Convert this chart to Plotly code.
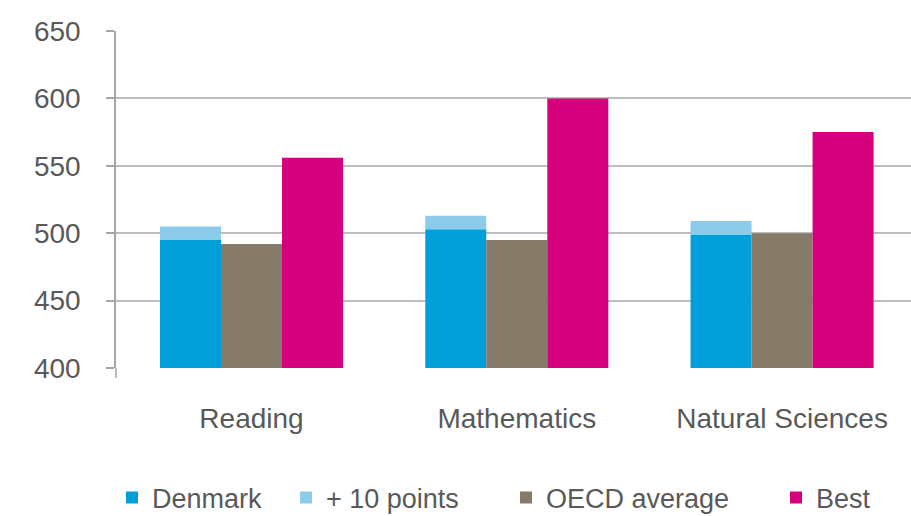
import plotly.graph_objects as go

categories = ["Reading", "Mathematics", "Natural Sciences"]
denmark = [495, 503, 499]
plus_10 = [10, 10, 10]
oecd_avg = [492, 495, 500]
best = [556, 600, 575]
y_ticks = [400, 450, 500, 550, 600, 650]

C_DK = "#009fd9"
C_P10 = "#8ccbea"
C_OECD = "#857b68"
C_BEST = "#d6007f"
TXT = "#595959"
FONT = "Liberation Sans, Arial, sans-serif"

W, H = 911, 516

fig = go.Figure()
fig.add_bar(x=categories, y=denmark, name="Denmark", marker_color=C_DK,
            offsetgroup="dk", legend="legend")
fig.add_bar(x=categories, y=plus_10, base=denmark, name="+ 10 points",
            marker_color=C_P10, offsetgroup="dk", legend="legend2")
fig.add_bar(x=categories, y=oecd_avg, name="OECD average", marker_color=C_OECD,
            offsetgroup="oecd", legend="legend3")
fig.add_bar(x=categories, y=best, name="Best", marker_color=C_BEST,
            offsetgroup="best", legend="legend4")
for tr in fig.data:
    tr.marker.line.width = 0

text_starts = [153, 327, 547, 817]
legend_common = dict(orientation="h", xref="container", yref="container",
                     xanchor="left", yanchor="middle", y=1 - 498 / H,
                     font=dict(family=FONT, size=27, color=TXT),
                     bgcolor="rgba(0,0,0,0)", borderwidth=0)
legends = {}
for i, ts in enumerate(text_starts):
    key = "legend" if i == 0 else f"legend{i+1}"
    legends[key] = dict(legend_common, x=(ts - 41) / W)

fig.update_layout(
    width=W, height=H,
    margin=dict(l=116, r=0, t=31, b=148),
    paper_bgcolor="white", plot_bgcolor="white",
    barmode="group", bargap=0.31, bargroupgap=0,
    font=dict(family=FONT, color=TXT),
    showlegend=True,
    **legends,
    xaxis=dict(range=[-0.5108, 2.486], showgrid=False, showline=False,
               zeroline=False, ticks="",
               tickfont=dict(family=FONT, size=28, color=TXT),
               ticklabelstandoff=31),
    yaxis=dict(range=[400, 650], tickvals=y_ticks, showgrid=True,
               gridcolor="#bdbdbd", gridwidth=2, showline=True,
               linecolor="#a6a6a6", linewidth=1.5, ticks="outside",
               ticklen=8, tickcolor="#a6a6a6", tickwidth=1.5,
               zeroline=False,
               tickfont=dict(family=FONT, size=28, color=TXT),
               ticklabelstandoff=20),
)
fig.add_shape(type="line", xref="paper", yref="paper", x0=0, x1=0,
              y0=0, y1=-10 / (H - 31 - 148), line=dict(color="#a6a6a6", width=1.5))

fig.write_html("out.html")
